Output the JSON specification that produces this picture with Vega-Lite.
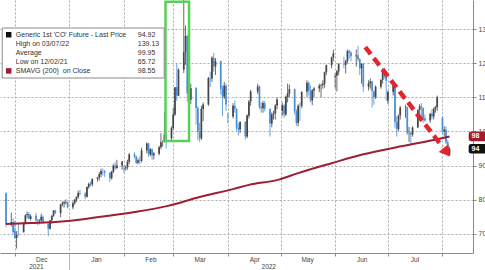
{
  "$schema": "https://vega.github.io/schema/vega-lite/v6.json",
  "width": 473,
  "height": 253,
  "autosize": {"type": "none"},
  "padding": {"left": 0, "top": 0, "right": 12, "bottom": 17},
  "background": "white",
  "config": {"font": "Liberation Sans", "view": {"stroke": null}},
  "datasets": {
    "ohlc": [
      {"d":"2021-11-26","o":81.9,"h":82.2,"l":72.0,"c":72.72},
      {"d":"2021-11-29","o":73.0,"h":76.2,"l":72.2,"c":73.44},
      {"d":"2021-11-30","o":73.5,"h":74.6,"l":70.0,"c":70.57},
      {"d":"2021-12-01","o":71.0,"h":73.8,"l":68.6,"c":68.87},
      {"d":"2021-12-02","o":68.8,"h":70.8,"l":65.72,"c":69.67},
      {"d":"2021-12-03","o":70.0,"h":73.4,"l":69.4,"c":69.88},
      {"d":"2021-12-06","o":70.5,"h":73.5,"l":70.4,"c":73.08},
      {"d":"2021-12-07","o":73.2,"h":75.7,"l":72.8,"c":75.44},
      {"d":"2021-12-08","o":75.5,"h":76.5,"l":74.6,"c":75.82},
      {"d":"2021-12-09","o":75.8,"h":76.4,"l":74.2,"c":74.42},
      {"d":"2021-12-10","o":74.4,"h":75.7,"l":73.9,"c":75.15},
      {"d":"2021-12-13","o":75.3,"h":76.2,"l":73.6,"c":73.90},
      {"d":"2021-12-14","o":73.9,"h":74.4,"l":72.5,"c":73.70},
      {"d":"2021-12-15","o":73.7,"h":74.3,"l":72.8,"c":73.88},
      {"d":"2021-12-16","o":73.9,"h":75.9,"l":73.6,"c":75.02},
      {"d":"2021-12-17","o":75.0,"h":75.4,"l":72.9,"c":73.52},
      {"d":"2021-12-20","o":73.0,"h":73.0,"l":69.3,"c":71.52},
      {"d":"2021-12-21","o":71.5,"h":74.1,"l":71.3,"c":73.98},
      {"d":"2021-12-22","o":74.0,"h":75.5,"l":73.0,"c":75.29},
      {"d":"2021-12-23","o":75.3,"h":76.9,"l":75.0,"c":76.85},
      {"d":"2021-12-24","o":76.9,"h":77.0,"l":75.8,"c":76.14},
      {"d":"2021-12-27","o":76.1,"h":78.8,"l":74.9,"c":78.60},
      {"d":"2021-12-28","o":78.6,"h":79.6,"l":78.0,"c":78.94},
      {"d":"2021-12-29","o":78.9,"h":79.6,"l":77.7,"c":79.23},
      {"d":"2021-12-30","o":79.2,"h":80.1,"l":78.6,"c":79.32},
      {"d":"2021-12-31","o":79.3,"h":79.5,"l":77.5,"c":77.78},
      {"d":"2022-01-03","o":77.8,"h":79.5,"l":77.2,"c":78.98},
      {"d":"2022-01-04","o":79.0,"h":80.2,"l":78.5,"c":80.00},
      {"d":"2022-01-05","o":80.0,"h":81.0,"l":79.3,"c":80.80},
      {"d":"2022-01-06","o":80.8,"h":82.7,"l":80.3,"c":81.99},
      {"d":"2022-01-07","o":82.0,"h":82.9,"l":81.2,"c":81.75},
      {"d":"2022-01-10","o":81.8,"h":82.3,"l":80.1,"c":80.87},
      {"d":"2022-01-11","o":80.9,"h":83.9,"l":80.6,"c":83.72},
      {"d":"2022-01-12","o":83.7,"h":85.0,"l":83.2,"c":84.67},
      {"d":"2022-01-13","o":84.7,"h":85.3,"l":83.9,"c":84.47},
      {"d":"2022-01-14","o":84.5,"h":86.3,"l":83.9,"c":86.06},
      {"d":"2022-01-17","o":86.1,"h":86.7,"l":85.3,"c":86.48},
      {"d":"2022-01-18","o":86.5,"h":88.1,"l":85.6,"c":87.51},
      {"d":"2022-01-19","o":87.5,"h":89.1,"l":86.6,"c":88.44},
      {"d":"2022-01-20","o":88.4,"h":89.1,"l":87.1,"c":88.38},
      {"d":"2022-01-21","o":88.4,"h":88.7,"l":86.7,"c":87.89},
      {"d":"2022-01-24","o":87.9,"h":88.1,"l":85.2,"c":86.27},
      {"d":"2022-01-25","o":86.3,"h":88.5,"l":85.9,"c":88.20},
      {"d":"2022-01-26","o":88.2,"h":90.5,"l":87.8,"c":89.96},
      {"d":"2022-01-27","o":90.0,"h":91.0,"l":88.7,"c":89.34},
      {"d":"2022-01-28","o":89.3,"h":91.7,"l":89.0,"c":90.03},
      {"d":"2022-01-31","o":90.0,"h":91.4,"l":88.8,"c":91.21},
      {"d":"2022-02-01","o":89.3,"h":90.0,"l":87.8,"c":89.16},
      {"d":"2022-02-02","o":89.2,"h":90.0,"l":88.5,"c":89.47},
      {"d":"2022-02-03","o":89.5,"h":91.7,"l":88.8,"c":91.11},
      {"d":"2022-02-04","o":91.1,"h":93.7,"l":90.4,"c":93.27},
      {"d":"2022-02-07","o":93.3,"h":94.0,"l":92.1,"c":92.69},
      {"d":"2022-02-08","o":92.7,"h":92.9,"l":90.5,"c":90.78},
      {"d":"2022-02-09","o":90.8,"h":92.1,"l":90.4,"c":91.55},
      {"d":"2022-02-10","o":91.6,"h":92.7,"l":90.4,"c":91.41},
      {"d":"2022-02-11","o":91.4,"h":95.2,"l":90.9,"c":94.44},
      {"d":"2022-02-14","o":94.4,"h":96.8,"l":93.6,"c":96.48},
      {"d":"2022-02-15","o":96.5,"h":96.6,"l":92.6,"c":93.28},
      {"d":"2022-02-16","o":93.3,"h":95.1,"l":92.7,"c":94.81},
      {"d":"2022-02-17","o":94.8,"h":95.0,"l":91.7,"c":92.97},
      {"d":"2022-02-18","o":93.0,"h":94.0,"l":91.8,"c":93.54},
      {"d":"2022-02-21","o":93.5,"h":95.8,"l":93.0,"c":95.39},
      {"d":"2022-02-22","o":95.4,"h":99.5,"l":94.8,"c":96.84},
      {"d":"2022-02-23","o":96.8,"h":97.4,"l":95.5,"c":96.84},
      {"d":"2022-02-24","o":97.0,"h":105.79,"l":96.8,"c":99.08},
      {"d":"2022-02-25","o":99.1,"h":99.2,"l":95.0,"c":97.93},
      {"d":"2022-02-28","o":98.0,"h":101.5,"l":97.5,"c":100.99},
      {"d":"2022-03-01","o":101.0,"h":107.0,"l":100.5,"c":104.97},
      {"d":"2022-03-02","o":105.0,"h":113.0,"l":104.5,"c":112.93},
      {"d":"2022-03-03","o":113.0,"h":119.84,"l":109.0,"c":110.46},
      {"d":"2022-03-04","o":110.5,"h":118.5,"l":110.3,"c":118.11},
      {"d":"2022-03-07","o":118.1,"h":139.13,"l":117.1,"c":123.21},
      {"d":"2022-03-08","o":123.2,"h":131.0,"l":119.5,"c":127.98},
      {"d":"2022-03-09","o":128.0,"h":128.2,"l":108.7,"c":111.14},
      {"d":"2022-03-10","o":111.1,"h":116.6,"l":105.6,"c":109.33},
      {"d":"2022-03-11","o":109.3,"h":114.0,"l":108.0,"c":112.67},
      {"d":"2022-03-14","o":112.7,"h":113.0,"l":102.0,"c":106.90},
      {"d":"2022-03-15","o":106.9,"h":107.5,"l":97.4,"c":99.91},
      {"d":"2022-03-16","o":99.9,"h":102.5,"l":97.0,"c":98.02},
      {"d":"2022-03-17","o":98.0,"h":107.5,"l":97.5,"c":106.64},
      {"d":"2022-03-18","o":106.6,"h":108.5,"l":103.0,"c":107.93},
      {"d":"2022-03-21","o":107.9,"h":116.0,"l":107.5,"c":115.62},
      {"d":"2022-03-22","o":115.6,"h":117.5,"l":113.0,"c":115.48},
      {"d":"2022-03-23","o":115.5,"h":122.0,"l":114.5,"c":121.60},
      {"d":"2022-03-24","o":121.6,"h":123.0,"l":117.5,"c":119.03},
      {"d":"2022-03-25","o":119.0,"h":121.5,"l":116.5,"c":120.65},
      {"d":"2022-03-28","o":120.6,"h":120.7,"l":110.8,"c":112.48},
      {"d":"2022-03-29","o":112.5,"h":113.5,"l":104.5,"c":110.23},
      {"d":"2022-03-30","o":110.2,"h":114.5,"l":109.5,"c":113.45},
      {"d":"2022-03-31","o":113.4,"h":114.0,"l":106.0,"c":107.91},
      {"d":"2022-04-01","o":104.7,"h":105.5,"l":102.4,"c":104.39},
      {"d":"2022-04-04","o":104.4,"h":108.3,"l":103.8,"c":107.53},
      {"d":"2022-04-05","o":107.5,"h":109.1,"l":105.5,"c":106.64},
      {"d":"2022-04-06","o":106.6,"h":106.8,"l":100.2,"c":101.07},
      {"d":"2022-04-07","o":101.1,"h":102.4,"l":98.8,"c":100.58},
      {"d":"2022-04-08","o":100.6,"h":103.0,"l":99.5,"c":102.78},
      {"d":"2022-04-11","o":102.8,"h":103.0,"l":97.6,"c":98.48},
      {"d":"2022-04-12","o":98.5,"h":105.0,"l":98.0,"c":104.64},
      {"d":"2022-04-13","o":104.6,"h":109.2,"l":103.8,"c":108.78},
      {"d":"2022-04-14","o":108.8,"h":112.2,"l":107.5,"c":111.70},
      {"d":"2022-04-18","o":111.7,"h":114.0,"l":111.0,"c":113.16},
      {"d":"2022-04-19","o":113.2,"h":113.5,"l":106.5,"c":107.25},
      {"d":"2022-04-20","o":107.3,"h":108.5,"l":105.5,"c":106.80},
      {"d":"2022-04-21","o":106.8,"h":109.0,"l":105.5,"c":108.33},
      {"d":"2022-04-22","o":108.3,"h":108.9,"l":105.9,"c":106.65},
      {"d":"2022-04-25","o":106.6,"h":106.8,"l":98.5,"c":102.32},
      {"d":"2022-04-26","o":102.3,"h":105.6,"l":101.2,"c":104.99},
      {"d":"2022-04-27","o":105.0,"h":106.0,"l":103.5,"c":105.32},
      {"d":"2022-04-28","o":105.3,"h":108.0,"l":103.5,"c":107.59},
      {"d":"2022-04-29","o":107.6,"h":110.0,"l":106.5,"c":109.34},
      {"d":"2022-05-02","o":106.0,"h":108.5,"l":104.5,"c":107.58},
      {"d":"2022-05-03","o":107.6,"h":108.0,"l":104.0,"c":104.97},
      {"d":"2022-05-04","o":105.0,"h":110.5,"l":104.5,"c":110.14},
      {"d":"2022-05-05","o":110.1,"h":114.0,"l":108.5,"c":111.13},
      {"d":"2022-05-06","o":111.1,"h":113.7,"l":110.0,"c":112.39},
      {"d":"2022-05-09","o":112.4,"h":112.6,"l":105.0,"c":105.94},
      {"d":"2022-05-10","o":105.9,"h":106.5,"l":101.7,"c":102.46},
      {"d":"2022-05-11","o":102.5,"h":108.0,"l":101.5,"c":107.51},
      {"d":"2022-05-12","o":107.5,"h":108.5,"l":103.1,"c":107.45},
      {"d":"2022-05-13","o":107.5,"h":111.8,"l":106.8,"c":111.55},
      {"d":"2022-05-16","o":111.6,"h":115.0,"l":110.0,"c":114.24},
      {"d":"2022-05-17","o":114.2,"h":114.7,"l":110.5,"c":111.93},
      {"d":"2022-05-18","o":111.9,"h":113.5,"l":108.5,"c":109.11},
      {"d":"2022-05-19","o":109.1,"h":112.4,"l":107.7,"c":112.04},
      {"d":"2022-05-20","o":112.0,"h":113.0,"l":110.0,"c":112.55},
      {"d":"2022-05-23","o":112.6,"h":114.0,"l":111.5,"c":113.42},
      {"d":"2022-05-24","o":113.4,"h":114.0,"l":110.0,"c":113.56},
      {"d":"2022-05-25","o":113.6,"h":115.0,"l":112.5,"c":114.03},
      {"d":"2022-05-26","o":114.0,"h":117.5,"l":112.8,"c":117.40},
      {"d":"2022-05-27","o":117.4,"h":119.6,"l":116.5,"c":119.43},
      {"d":"2022-05-30","o":119.4,"h":121.9,"l":118.5,"c":121.67},
      {"d":"2022-05-31","o":121.7,"h":124.0,"l":120.5,"c":122.84},
      {"d":"2022-06-01","o":116.0,"h":117.0,"l":112.6,"c":116.29},
      {"d":"2022-06-02","o":116.3,"h":118.0,"l":111.7,"c":117.61},
      {"d":"2022-06-03","o":117.6,"h":120.0,"l":116.5,"c":119.72},
      {"d":"2022-06-06","o":119.7,"h":121.9,"l":118.5,"c":119.51},
      {"d":"2022-06-07","o":119.5,"h":121.0,"l":117.0,"c":120.57},
      {"d":"2022-06-08","o":120.6,"h":124.0,"l":120.0,"c":123.58},
      {"d":"2022-06-09","o":123.6,"h":124.0,"l":121.3,"c":123.07},
      {"d":"2022-06-10","o":123.1,"h":123.5,"l":120.5,"c":122.01},
      {"d":"2022-06-13","o":122.0,"h":124.0,"l":119.0,"c":122.27},
      {"d":"2022-06-14","o":122.3,"h":125.0,"l":120.5,"c":121.17},
      {"d":"2022-06-15","o":121.2,"h":121.5,"l":116.5,"c":118.51},
      {"d":"2022-06-16","o":118.5,"h":120.0,"l":114.0,"c":119.81},
      {"d":"2022-06-17","o":119.8,"h":120.0,"l":111.5,"c":113.12},
      {"d":"2022-06-20","o":113.1,"h":115.0,"l":112.0,"c":114.13},
      {"d":"2022-06-21","o":114.1,"h":115.5,"l":112.5,"c":114.65},
      {"d":"2022-06-22","o":114.6,"h":114.8,"l":107.0,"c":111.74},
      {"d":"2022-06-23","o":111.7,"h":112.0,"l":107.8,"c":110.05},
      {"d":"2022-06-24","o":110.1,"h":113.5,"l":109.5,"c":113.12},
      {"d":"2022-06-27","o":113.1,"h":115.3,"l":112.5,"c":115.09},
      {"d":"2022-06-28","o":115.1,"h":118.5,"l":114.0,"c":117.98},
      {"d":"2022-06-29","o":118.0,"h":118.4,"l":115.5,"c":116.26},
      {"d":"2022-06-30","o":116.3,"h":117.0,"l":109.0,"c":114.81},
      {"d":"2022-07-01","o":109.0,"h":112.0,"l":108.0,"c":111.63},
      {"d":"2022-07-04","o":111.6,"h":114.0,"l":110.5,"c":113.50},
      {"d":"2022-07-05","o":113.5,"h":113.9,"l":101.1,"c":102.77},
      {"d":"2022-07-06","o":102.8,"h":104.5,"l":98.5,"c":100.69},
      {"d":"2022-07-07","o":100.7,"h":105.0,"l":100.0,"c":104.65},
      {"d":"2022-07-08","o":104.7,"h":107.5,"l":103.5,"c":107.02},
      {"d":"2022-07-11","o":107.0,"h":107.8,"l":104.0,"c":107.10},
      {"d":"2022-07-12","o":107.1,"h":107.3,"l":99.0,"c":99.49},
      {"d":"2022-07-13","o":99.5,"h":101.3,"l":96.9,"c":99.57},
      {"d":"2022-07-14","o":99.6,"h":100.1,"l":95.8,"c":99.10},
      {"d":"2022-07-15","o":99.1,"h":101.5,"l":98.5,"c":101.16},
      {"d":"2022-07-18","o":101.2,"h":106.5,"l":101.0,"c":106.27},
      {"d":"2022-07-19","o":106.3,"h":108.0,"l":104.5,"c":107.35},
      {"d":"2022-07-20","o":107.4,"h":108.3,"l":104.5,"c":106.92},
      {"d":"2022-07-21","o":106.9,"h":107.0,"l":102.5,"c":103.86},
      {"d":"2022-07-22","o":103.9,"h":105.0,"l":102.8,"c":103.20},
      {"d":"2022-07-25","o":103.2,"h":105.5,"l":102.5,"c":105.15},
      {"d":"2022-07-26","o":105.2,"h":106.5,"l":103.5,"c":104.40},
      {"d":"2022-07-27","o":104.4,"h":107.0,"l":103.5,"c":106.62},
      {"d":"2022-07-28","o":106.6,"h":107.5,"l":105.5,"c":107.14},
      {"d":"2022-07-29","o":107.1,"h":110.5,"l":106.0,"c":110.01},
      {"d":"2022-08-01","o":104.0,"h":104.5,"l":99.1,"c":100.03},
      {"d":"2022-08-02","o":100.0,"h":101.5,"l":98.5,"c":100.54},
      {"d":"2022-08-03","o":100.5,"h":101.5,"l":96.3,"c":96.78},
      {"d":"2022-08-04","o":96.8,"h":97.5,"l":92.8,"c":93.12},
      {"d":"2022-08-05","o":93.1,"h":95.5,"l":92.9,"c":94.92}
    ],
    "sma": [
      {"d":"2021-11-26","v":72.9},
      {"d":"2021-12-10","v":73.2},
      {"d":"2021-12-24","v":73.5},
      {"d":"2022-01-03","v":73.9},
      {"d":"2022-01-20","v":75.1},
      {"d":"2022-02-07","v":76.4},
      {"d":"2022-02-26","v":78.2},
      {"d":"2022-03-16","v":80.8},
      {"d":"2022-04-04","v":83.1},
      {"d":"2022-04-13","v":84.35},
      {"d":"2022-04-30","v":85.9},
      {"d":"2022-05-11","v":87.8},
      {"d":"2022-05-30","v":90.7},
      {"d":"2022-06-17","v":93.3},
      {"d":"2022-07-06","v":95.4},
      {"d":"2022-07-24","v":97.2},
      {"d":"2022-08-05","v":98.55}
    ]
  },
  "layer": [
    {
      "data": {"name": "ohlc"},
      "mark": {"type": "rule", "strokeWidth": 0.8, "clip": true},
      "encoding": {
        "x": {
          "field": "d", "type": "temporal",
          "scale": {"type": "utc", "domain": [
            {"year": 2021, "month": 11, "date": 25, "hours": 10, "utc": true},
            {"year": 2022, "month": 8, "date": 15, "hours": 12, "utc": true}
          ]},
          "axis": {
            "orient": "bottom",
            "values": [
              {"year": 2021, "month": 12, "date": 1, "utc": true},
              {"year": 2022, "month": 1, "date": 1, "utc": true},
              {"year": 2022, "month": 2, "date": 1, "utc": true},
              {"year": 2022, "month": 3, "date": 1, "utc": true},
              {"year": 2022, "month": 4, "date": 1, "utc": true},
              {"year": 2022, "month": 5, "date": 1, "utc": true},
              {"year": 2022, "month": 6, "date": 1, "utc": true},
              {"year": 2022, "month": 7, "date": 1, "utc": true},
              {"year": 2022, "month": 8, "date": 1, "utc": true}
            ],
            "labelExpr": "utcmonth(datum.value) == 7 ? '' : utcFormat(datum.value, '%b')",
            "labelOffset": 26.5, "labelFlush": false, "labelOverlap": false,
            "grid": true, "gridDash": [2, 2], "gridColor": "#ababab",
            "domainColor": "#8a8a8a", "tickColor": "#8a8a8a", "tickSize": 3,
            "labelPadding": 0, "labelFontSize": 6.5, "labelColor": "#444", "title": null
          }
        },
        "y": {
          "field": "l", "type": "quantitative",
          "scale": {"domain": [64.4, 138.5], "nice": false, "zero": false},
          "axis": {
            "orient": "right", "values": [70, 80, 90, 100, 110, 120, 130],
            "grid": true, "gridDash": [2, 2], "gridColor": "#ababab",
            "domainColor": "#8a8a8a", "tickColor": "#8a8a8a", "tickSize": 3,
            "labelPadding": 2, "labelFontSize": 7, "labelColor": "#444",
            "labelFlush": false, "title": null
          }
        },
        "y2": {"field": "h"},
        "color": {"condition": {"test": "datum.c >= datum.o", "value": "#454545"}, "value": "#4a8ed6"}
      }
    },
    {
      "data": {"name": "ohlc"},
      "mark": {"type": "bar", "width": 1.7, "clip": true, "orient": "vertical"},
      "encoding": {
        "x": {"field": "d", "type": "temporal", "axis": null},
        "y": {"field": "o", "type": "quantitative"},
        "y2": {"field": "c"},
        "color": {"condition": {"test": "datum.c >= datum.o", "value": "#454545"}, "value": "#4a8ed6"}
      }
    },
    {
      "data": {"name": "sma"},
      "mark": {"type": "line", "color": "#9e1f33", "strokeWidth": 2, "interpolate": "monotone", "clip": true},
      "encoding": {
        "x": {
          "field": "d", "type": "temporal",
          "axis": {
            "orient": "bottom",
            "values": [
              {"year": 2021, "month": 12, "date": 13, "utc": true},
              {"year": 2022, "month": 4, "date": 24, "utc": true}
            ],
            "labelExpr": "utcFormat(datum.value, '%Y')",
            "ticks": false, "domain": false, "grid": false,
            "labelPadding": 10.5, "labelFontSize": 6.5, "labelColor": "#444",
            "labelFlush": false, "labelOverlap": false, "title": null
          }
        },
        "y": {"field": "v", "type": "quantitative"}
      }
    },
    {
      "data": {"values": [{"s": "2022-02-24T15:00:00Z", "e": "2022-03-10T00:00:00Z", "lo": 97.2, "hi": 138.0}]},
      "mark": {"type": "rect", "fill": null, "fillOpacity": 0, "stroke": "#57d257", "strokeWidth": 2.5},
      "encoding": {
        "x": {
          "field": "s", "type": "temporal",
          "axis": {
            "orient": "bottom",
            "values": [{"year": 2022, "month": 1, "date": 1, "utc": true}],
            "labels": false, "domain": false, "grid": false,
            "ticks": true, "tickSize": 17, "tickColor": "#b5b5b5", "title": null
          }
        },
        "x2": {"field": "e"},
        "y": {"field": "lo", "type": "quantitative"},
        "y2": {"field": "hi"}
      }
    },
    {
      "data": {"values": [
        {"d": "2022-06-18T03:00:00Z", "p": 124.7},
        {"d": "2022-08-01T02:00:00Z", "p": 95.45}
      ]},
      "mark": {"type": "line", "color": "#e0262f", "strokeWidth": 4.5, "strokeDash": [9, 5], "strokeCap": "butt"},
      "encoding": {
        "x": {"field": "d", "type": "temporal", "axis": null},
        "y": {"field": "p", "type": "quantitative"}
      }
    },
    {
      "data": {"values": [{"d": "2022-08-03T10:00:00Z", "p": 93.9}]},
      "mark": {"type": "point", "shape": "triangle-right", "angle": 51.7, "size": 150, "filled": true, "color": "#e0262f", "opacity": 1},
      "encoding": {
        "x": {"field": "d", "type": "temporal", "axis": null},
        "y": {"field": "p", "type": "quantitative"}
      }
    },
    {
      "data": {"values": [
        {"v": 98.55, "t": "98", "k": "sma"},
        {"v": 94.92, "t": "94", "k": "last"}
      ]},
      "mark": {"type": "point", "shape": "M-0.8,-0.4H1V0.4H-0.8Q-1,0.4 -1,0.2V-0.2Q-1,-0.4 -0.8,-0.4Z", "size": 576, "filled": true, "opacity": 1, "clip": false},
      "encoding": {
        "x": {"datum": {"year": 2022, "month": 8, "date": 22, "hours": 17, "utc": true}, "type": "temporal", "axis": null},
        "y": {"field": "v", "type": "quantitative"},
        "fill": {"condition": {"test": "datum.k == 'sma'", "value": "#a3192e"}, "value": "#111111"}
      }
    },
    {
      "data": {"values": [
        {"v": 98.55, "t": "98", "k": "sma"},
        {"v": 94.92, "t": "94", "k": "last"}
      ]},
      "mark": {"type": "text", "align": "left", "baseline": "middle", "fontSize": 7, "fontWeight": "bold", "color": "white", "clip": false},
      "encoding": {
        "x": {"datum": {"year": 2022, "month": 8, "date": 17, "hours": 12, "utc": true}, "type": "temporal", "axis": null},
        "y": {"field": "v", "type": "quantitative"},
        "text": {"field": "t"}
      }
    },
    {
      "data": {"values": []},
      "mark": {"type": "point", "filled": true, "opacity": 1},
      "encoding": {
        "color": {
          "field": "name", "type": "nominal",
          "scale": {
            "domain": ["Generic 1st 'CO' Future - Last Price", "High on 03/07/22", "Average", "Low on 12/02/21", "SMAVG (200)\u00a0\u00a0on Close", "94.92", "139.13", "99.95", "65.72", "98.55"],
            "range": ["#111111", "#666666", "#666666", "#666666", "#a3192e", "transparent", "transparent", "transparent", "transparent", "transparent"]
          },
          "legend": {
            "orient": "none", "legendX": 1.7, "legendY": 27.5, "columns": 2,
            "direction": "vertical", "gridAlign": "each",
            "columnPadding": -3, "rowPadding": 1.1, "padding": 3.5,
            "strokeColor": "#8a8a8a", "fillColor": "white",
            "symbolSize": 30, "labelOffset": 3.6, "labelFontSize": 7,
            "labelColor": "#333", "labelFont": "Liberation Sans", "labelLimit": 200,
            "title": null,
            "encode": {"symbols": {"update": {"stroke": {"scale": "color", "field": "value"}, "strokeWidth": {"value": 1.1}}}}
          }
        },
        "shape": {
          "field": "name", "type": "nominal",
          "scale": {
            "domain": ["Generic 1st 'CO' Future - Last Price", "High on 03/07/22", "Average", "Low on 12/02/21", "SMAVG (200)\u00a0\u00a0on Close", "94.92", "139.13", "99.95", "65.72", "98.55"],
            "range": ["square", "M-0.7,-0.9H0.7M0,-0.9V0.9", "M-0.9,0H0.9M0,-0.5V0.5", "M0,-0.9V0.9M-0.7,0.9H0.7", "square", "M0,0", "M0,0", "M0,0", "M0,0", "M0,0"]
          }
        }
      }
    }
  ],
  "resolve": {"axis": {"x": "independent"}}
}
